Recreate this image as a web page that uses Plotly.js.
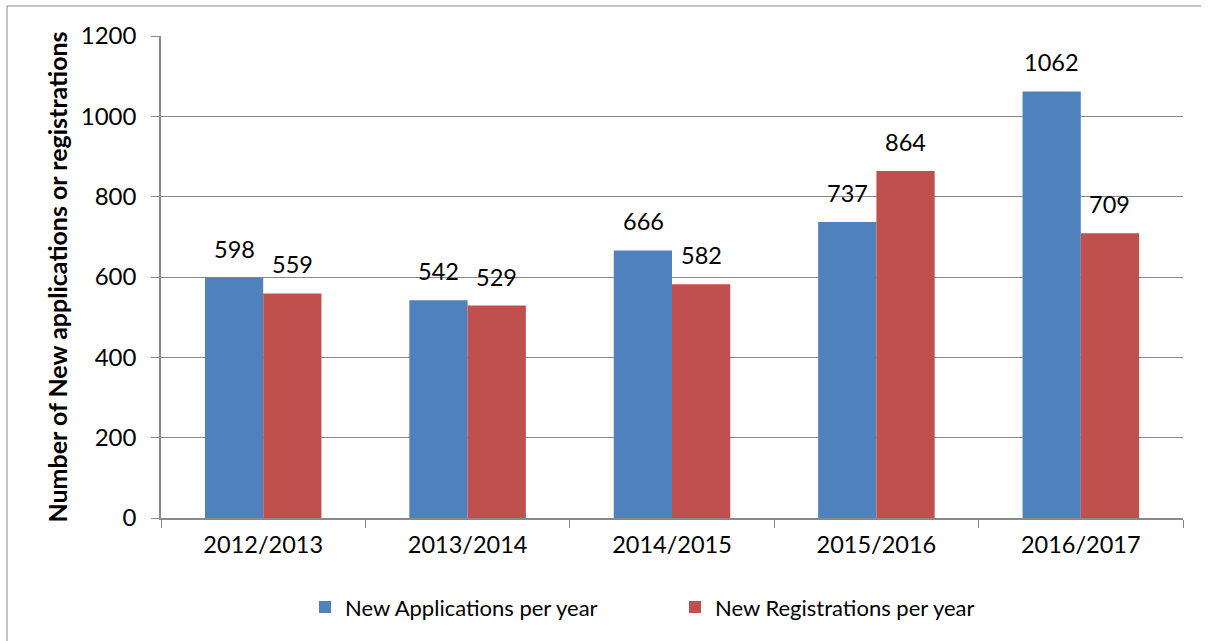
<!DOCTYPE html>
<html>
<head>
<meta charset="utf-8">
<script src="https://cdn.plot.ly/plotly-3.0.1.min.js"></script>
<style>
html, body { margin: 0; padding: 0; background: #fff; }
#chart { width: 1208px; height: 641px; }
</style>
</head>
<body>
<div id="chart"></div>
<script>
const categories = ["2012/2013", "2013/2014", "2014/2015", "2015/2016", "2016/2017"];
const applications = [598, 542, 666, 737, 1062];
const registrations = [559, 529, 582, 864, 709];
const seriesNames = ["New Applications per year", "New Registrations per year"];
const yTicks = [0, 200, 400, 600, 800, 1000, 1200];

const FONT = "Lato, 'Open Sans', sans-serif";
const GRID = "#898989";

const traces = [
  { type: "bar", name: seriesNames[0], x: categories, y: applications,
    marker: { color: "#4F81BD", line: { width: 0 } }, hoverinfo: "x+y" },
  { type: "bar", name: seriesNames[1], x: categories, y: registrations,
    marker: { color: "#C0504D", line: { width: 0 } }, hoverinfo: "x+y" }
];

const annotations = [];
categories.forEach((c, i) => {
  annotations.push({ x: c, y: applications[i], xref: "x", yref: "y", text: String(applications[i]),
    showarrow: false, xshift: -29, yanchor: "bottom", yshift: 13,
    font: { family: FONT, size: 23.5, color: "#000" } });
  annotations.push({ x: c, y: registrations[i], xref: "x", yref: "y", text: String(registrations[i]),
    showarrow: false, xshift: 29, yanchor: "bottom", yshift: 13,
    font: { family: FONT, size: 23.5, color: "#000" } });
});

const layout = {
  width: 1208, height: 641,
  margin: { l: 161, r: 25, t: 36, b: 123, autoexpand: false },
  paper_bgcolor: "#fff", plot_bgcolor: "#fff",
  font: { family: FONT, color: "#000" },
  barmode: "group", bargap: 0.43, bargroupgap: 0,
  showlegend: true,
  legend: { orientation: "h", x: (305 - 161) / 1022, xanchor: "left", y: -0.185, yanchor: "middle",
    entrywidth: 325, entrywidthmode: "pixels",
    font: { family: FONT, size: 22, color: "#000" }, itemclick: false },
  xaxis: {
    type: "category", tickson: "boundaries", ticks: "outside", ticklen: 8, tickcolor: GRID,
    showline: true, linecolor: GRID, linewidth: 1.5, showgrid: false,
    tickfont: { family: FONT, size: 23.5, color: "#000" }, ticklabelstandoff: 5
  },
  yaxis: {
    range: [0, 1200], tickvals: yTicks, ticktext: yTicks.map(String),
    ticks: "outside", ticklen: 8, tickcolor: GRID,
    showline: true, linecolor: GRID, linewidth: 1.5,
    showgrid: true, gridcolor: GRID, gridwidth: 1, zeroline: false,
    tickfont: { family: FONT, size: 24, color: "#000" }, ticklabelstandoff: 10,
    title: { text: "Number of New applications or registrations", standoff: 6,
      font: { family: FONT, size: 25, color: "#000", weight: "bold" } },
    automargin: false
  },
  shapes: [
    { type: "line", xref: "paper", yref: "paper", x0: (7 - 161) / 1022, x1: (1201 - 161) / 1022,
      y0: (518 - 6) / 482, y1: (518 - 6) / 482, line: { color: GRID, width: 1 } },
    { type: "line", xref: "paper", yref: "paper", x0: (7 - 161) / 1022, x1: (7 - 161) / 1022,
      y0: (518 - 6) / 482, y1: -0.3, line: { color: GRID, width: 1 } }
  ],
  annotations: annotations
};

Plotly.newPlot("chart", traces, layout, { displayModeBar: false, staticPlot: false });
</script>
</body>
</html>
